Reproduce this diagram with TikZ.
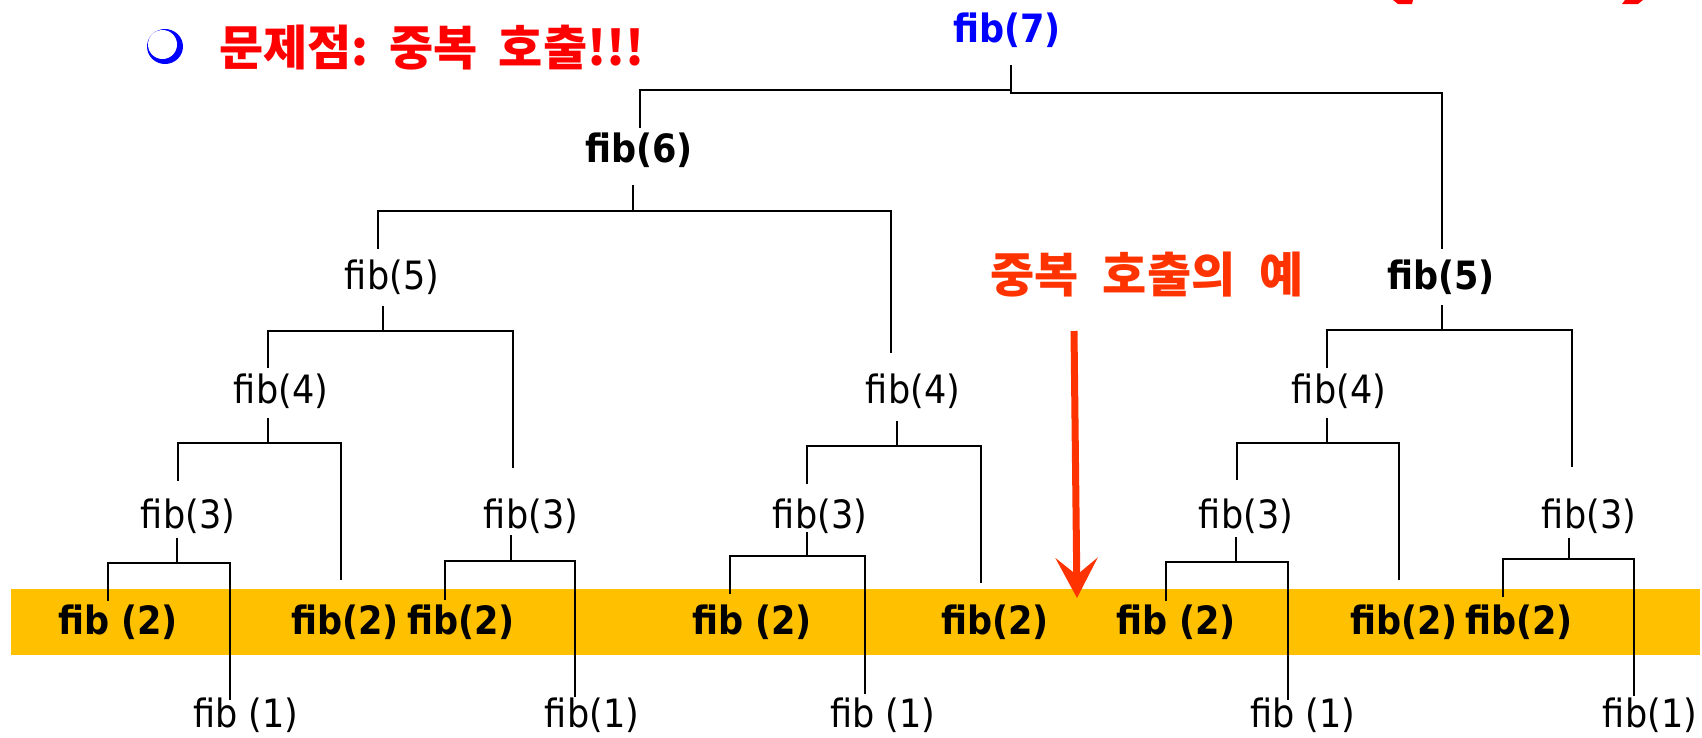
\documentclass[tikz,border=0pt]{standalone}
\usepackage{fontspec}
\usetikzlibrary{calc,arrows.meta}
\newfontfamily\fibfont[FakeStretch=0.9]{DejaVu Sans}
\newfontfamily\kofont{Noto Sans CJK KR}
\definecolor{bandcol}{RGB}{255,192,0}
\definecolor{arrcol}{RGB}{255,51,0}
\definecolor{ttlcol}{RGB}{255,0,0}
\definecolor{rootblue}{RGB}{0,0,255}
\tikzset{
  reg/.style={font=\fibfont\fontsize{39}{44}\selectfont, inner sep=0pt},
  bld/.style={font=\fibfont\bfseries\fontsize{39}{44}\selectfont, inner sep=0pt},
  conn/.style={line width=2pt, draw=black},
  kor/.style={font=\kofont\bfseries\fontsize{48}{54}\selectfont, inner sep=0pt}
}
\newcommand\fibconn[5]{\draw[conn] ($(#1)+(#2)$) -- ++(0,#3) -| ($(#4)+(#5)$);}
\begin{document}
\begin{tikzpicture}[x=1pt,y=-1pt]
\useasboundingbox (0,0) rectangle (1702,737);
% band
\fill[bandcol] (11,589) rectangle (1700,655);
% cut-off red fragments at top right
\fill[ttlcol] (1393,0) -- (1413,0) -- (1412,4) -- (1398,4) -- cycle;
\fill[ttlcol] (1625,0) -- (1643,0) -- (1638,4) -- (1622,4) -- cycle;
% title
\fill[blue] (165,46.5) ellipse (18 and 17.5);
\fill[white] (162.5,44.5) ellipse (14.5 and 14.5);
\node[kor, text=ttlcol, anchor=west] (title) at (219,48) {문제점:\hspace{21pt}중복\hspace{21pt}호출!!!};
% nodes
\node[bld, text=rootblue] (t7) at (1007,30) {fib(7)};
\node[bld] (t6) at (639,150) {fib(6)};
\node[reg] (t5L) at (392,277) {fib(5)};
\node[bld] (t5R) at (1441,277) {fib(5)};
\node[reg] (t4L) at (281,391) {fib(4)};
\node[reg] (t4M) at (913,391) {fib(4)};
\node[reg] (t4R) at (1339,391) {fib(4)};
\node[reg] (t3a) at (188,516) {fib(3)};
\node[reg] (t3b) at (531,516) {fib(3)};
\node[reg] (t3c) at (820,516) {fib(3)};
\node[reg] (t3d) at (1246,516) {fib(3)};
\node[reg] (t3e) at (1589,516) {fib(3)};
\node[bld] (t2a) at (118,622) {fib (2)};
\node[bld] (t2b) at (345,622) {fib(2)};
\node[bld] (t2c) at (461,622) {fib(2)};
\node[bld] (t2d) at (752,622) {fib (2)};
\node[bld] (t2e) at (995,622) {fib(2)};
\node[bld] (t2f) at (1176,622) {fib (2)};
\node[bld] (t2g) at (1404,622) {fib(2)};
\node[bld] (t2h) at (1519,622) {fib(2)};
\node[reg] (t1a) at (246,715) {fib (1)};
\node[reg] (t1b) at (592,715) {fib(1)};
\node[reg] (t1c) at (883,715) {fib (1)};
\node[reg] (t1d) at (1303,715) {fib (1)};
\node[reg] (t1e) at (1650,715) {fib(1)};
% connectors
\fibconn{t7}{4,35}{25}{t6}{1,-22}
\fibconn{t7}{4,35}{28}{t5R}{1,-28}
\fibconn{t6}{-6,35}{26}{t5L}{-14,-28}
\fibconn{t6}{-6,35}{26}{t4M}{-22,-38}
\fibconn{t5L}{-9,29}{25}{t4L}{-13,-23}
\fibconn{t5L}{-9,29}{25}{t3b}{-18,-48}
\fibconn{t4L}{-13,27}{25}{t3a}{-10,-35}
\fibconn{t4L}{-13,27}{25}{t2b}{-4,-42}
\fibconn{t3a}{-11,22}{25}{t2a}{-10,-21}
\fibconn{t3a}{-11,22}{25}{t1a}{-16,-15}
\fibconn{t3b}{-20,19}{26}{t2c}{-16,-22}
\fibconn{t3b}{-20,19}{26}{t1b}{-17,-18}
\fibconn{t4M}{-16,30}{25}{t3c}{-13,-32}
\fibconn{t4M}{-16,30}{25}{t2e}{-14,-39}
\fibconn{t3c}{-13,16}{24}{t2d}{-22,-28}
\fibconn{t3c}{-13,16}{24}{t1c}{-18,-21}
\fibconn{t5R}{1,28}{25}{t4R}{-12,-23}
\fibconn{t5R}{1,28}{25}{t3e}{-17,-49}
\fibconn{t4R}{-12,27}{25}{t3d}{-9,-36}
\fibconn{t4R}{-12,27}{25}{t2g}{-5,-42}
\fibconn{t3d}{-10,21}{25}{t2f}{-10,-21}
\fibconn{t3d}{-10,21}{25}{t1d}{-15,-15}
\fibconn{t3e}{-20,22}{21}{t2h}{-16,-25}
\fibconn{t3e}{-20,22}{21}{t1e}{-16,-19}
% example label and arrow
\node[kor, text=arrcol] (ex) at (1147,275) {중복\hspace{24pt}호출의\hspace{24pt}예};
\coordinate (aS) at (1074,331);
\coordinate (aT) at (1077,598);
\draw[arrcol, line width=7pt, -{Stealth[length=40pt,width=42pt,inset=17pt]}] (aS) -- (aT);
\end{tikzpicture}
\end{document}
